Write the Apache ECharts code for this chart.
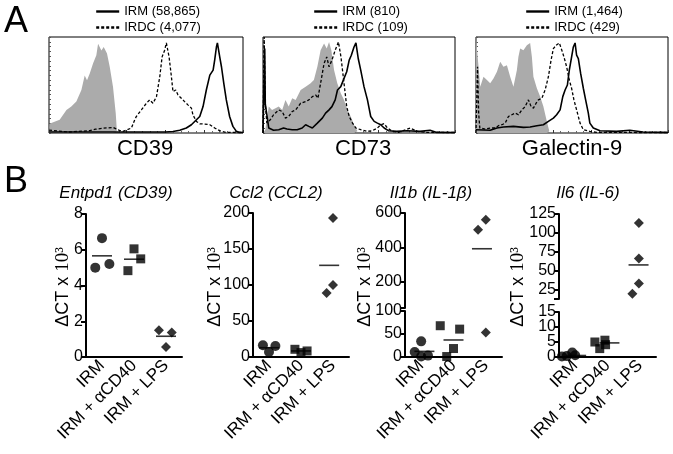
<!DOCTYPE html>
<html>
<head>
<meta charset="utf-8">
<script src="https://cdn.jsdelivr.net/npm/echarts@6/dist/echarts.min.js"></script>
<style>
  html, body { margin: 0; padding: 0; background: #fff; }
  #main { width: 673px; height: 454px; }
</style>
</head>
<body>
<div id="main"></div>
<script>
// ---- panel A: flow histograms, [channel, % of max] ----
const cd39Iso = [[0,0],[0.5,10],[1.2,10.4],[5.5,13.8],[9,24],[11.5,27.5],[14.1,32.7],[16.7,44.8],[18.4,60],[19.6,55],[21,62],[22.7,72.5],[24.4,81],[25.3,93],[27,86],[28.2,89.6],[29.2,91.5],[29.9,82.8],[31.3,69],[33,48],[34.4,20.7],[35,1.7],[36,0]];
const cd39Irdc = [[0,3],[1,1],[10,1],[21,2.4],[24,4],[28,5],[33,5.8],[36,3],[38.1,1.7],[42.5,5.2],[44.2,13.8],[45,17.2],[47.6,24],[50.2,31],[51.9,34.5],[53.6,31],[55.4,37.9],[57.1,58.6],[58.3,79.3],[59.6,86.2],[60.5,93.8],[61.9,79.3],[63.1,58.6],[63.9,43.1],[65.3,44.8],[66.5,39.6],[68.2,36.2],[69.9,32.7],[71.6,29.3],[73.4,25.9],[74.2,18.9],[76,12],[77.7,9.6],[80.3,9.3],[82.9,8.6],[85.4,5.2],[88,2.4],[91.4,0.6],[100,0.5]];
const cd39Irm = [[0,1],[60,1],[63.9,1.5],[67.4,2.8],[70.8,5.2],[73.4,8.6],[76,13.8],[77.7,17.2],[79.4,27.5],[81.1,44.8],[82.9,60.3],[84.6,65.5],[85.4,75.9],[86.3,89.6],[86.8,93.8],[88,79.3],[88.9,69],[90.1,51.8],[91.4,34.5],[93.1,17.2],[94.8,6.9],[96.6,1.7],[98.3,0.6],[100,0.5]];

const cd73Iso = [[0,0],[1.2,3.4],[3,27.5],[4.7,24],[6.5,25.9],[8.2,27.5],[10,24],[11.7,34.5],[13.4,27.5],[15.2,36.2],[17,34.5],[19.6,44.8],[22.2,48.3],[24.8,51.8],[26.5,55.2],[28.3,69],[30,86.2],[31.8,93.1],[33.2,87.9],[34.4,94.8],[35.6,86.2],[37,65.5],[38.7,51.8],[40.5,41.4],[42.2,34.5],[44,24],[45.7,17.2],[47.4,8.6],[49.2,1.7],[50,0]];
const cd73Irdc = [[0,0],[0.6,100],[1.2,30],[2,10.4],[3.8,13.8],[5.5,19],[8.2,24],[10,22.4],[11.7,15.5],[13.4,17.2],[15.2,22.4],[17,24],[19.6,31],[22.2,32.7],[23.9,34.5],[25.7,37.9],[27.4,39.6],[28.6,36.2],[30,51.8],[31.8,72.4],[33.2,79.3],[34.4,69],[35.9,75.9],[37.6,86.2],[39.3,94.8],[40.6,79.3],[42.2,51.8],[43.6,27.5],[44.9,17.2],[46.6,10.4],[48.4,5.2],[50.9,3.4],[54.4,1.7],[57,2.4],[59.6,5.2],[61.3,8.6],[63.1,9.7],[64.8,5.2],[67.4,1.7],[70.5,0.6],[76.6,5.2],[80.4,1.7],[85.6,0.6],[100,0.5]];
const cd73Irm = [[0,0],[0.9,88],[1.2,30],[3,5.2],[5.5,2.8],[8.2,3.4],[10.7,5.2],[12.5,4.1],[15.2,3.4],[17.8,3.4],[20.4,5.2],[22.2,8.6],[23.9,6.9],[25.7,5.2],[28.3,10.3],[30.9,15.5],[32.6,20.7],[34.4,24.1],[35.9,27.5],[37.6,34.5],[38.8,44.8],[40.5,48.3],[42.2,56.9],[43.6,63.8],[44.9,75.9],[46,81],[47.4,89.6],[48.4,93.8],[49.6,77.6],[50.9,65.5],[52.6,48.3],[54.4,34.5],[56.1,17.2],[57.9,12.1],[59.6,10.3],[61.3,8.6],[63.1,5.2],[65.3,2.4],[69.7,1.7],[74.9,2.4],[81.8,1.7],[87,2.8],[90.5,0.6],[100,0.5]];

const gal9Iso = [[0,100],[0.8,100],[2.2,48.3],[3.9,58.6],[5.7,55.2],[7.4,51.8],[9.1,56.9],[10.9,63.8],[12.6,74.1],[14.3,69],[16.1,70.7],[17.8,58.6],[19.5,48.3],[21.3,65.5],[22.1,79.3],[23,87.9],[24.7,86.2],[26.5,91.4],[28.2,93.8],[29.1,79.3],[29.9,58.6],[31.7,46.6],[33.4,37.9],[35.1,27.5],[36.9,12.1],[38.2,1.7],[39,0]];
const gal9Irdc = [[0,0],[0.8,69],[1.4,20],[2,5.2],[4.8,4.1],[7.4,5.2],[10,5.2],[11.7,7.6],[13.5,8.6],[15.2,10.3],[16.9,17.2],[18.7,19],[20.4,20.7],[22.1,19],[23.9,24.1],[25.6,27.5],[27.3,34.5],[28.7,27.5],[29.9,25.9],[31.3,31],[32.5,34.5],[34.3,36.2],[36,44.8],[37.7,58.6],[39.1,75.9],[40.3,87.9],[41.7,91.4],[43.4,93.8],[44.7,86.2],[45.8,79.3],[47.2,69],[48.6,55.2],[49.8,46.6],[51,34.5],[52.4,24.1],[54.2,10.3],[55.9,3.4],[59.3,1.7],[62.8,0.6],[100,0.5]];
const gal9Irm = [[0,3.4],[7.4,2.8],[10.9,5.2],[14.3,6.2],[19.5,6.9],[24.7,5.9],[28.2,6.2],[31.7,7.6],[35.1,8.6],[37.7,12.1],[40.3,15.5],[42,19],[43.8,24.1],[45.2,37.9],[46.4,44.8],[47.6,50],[48.6,65.5],[49.8,79.3],[50.7,89.6],[51.6,93.8],[52.4,81],[53.3,77.6],[54.5,62.1],[55.9,46.6],[57.1,34.5],[58.5,20.7],[59.3,10.3],[61.1,5.2],[64.6,2.4],[73.2,1.7],[80.1,2.8],[87,1],[97.4,0.6],[100,0.5]];

// ---- panel B: qPCR dots (ΔCT x 10^3) ----
const groups = ['IRM', 'IRM + αCD40', 'IRM + LPS'];

const entpd1Vals = [[6.65, 5.0, 5.2], [6.05, 4.83, 5.49], [1.5, 1.37, 0.56]];
const entpd1Jit = [[0, -0.21, 0.23], [0, -0.19, 0.21], [-0.22, 0.18, 0]];
const entpd1Means = [5.66, 5.47, 1.16];

const ccl2Vals = [[16.3, 15.3, 7], [10.7, 8.4, 6.1], [193, 89, 100]];
const ccl2Jit = [[-0.19, 0.2, 0], [-0.19, 0.19, 0], [0, -0.2, 0]];
const ccl2Means = [12.9, 8.4, 127.3];

const il1bVals = [[11, 34, 1, 3], [68, 60.6, 18.4, 1], [503, 561, 53]];
const il1bJit = [[-0.2, 0, 0, 0.21], [-0.41, 0.19, 0, -0.21], [-0.24, 0, 0]];
const il1bMeans = [12.25, 37, 393];

const il6Vals = [[0.2, 0.3, 1.5, 0.6], [5, 5.6, 2.8, 4.1], [113, 66, 33, 19.3]];
const il6Jit = [[-0.41, -0.26, -0.09, 0], [-0.39, -0.08, -0.24, -0.06], [-0.03, -0.03, -0.03, -0.23]];
const il6Means = [0.5, 4.7, 57.6];
const il6MeanOff = [0.03, 0.06, -0.04];

const sans = '"Liberation Sans", Arial, sans-serif';
const serif = '"Liberation Serif", "Times New Roman", serif';

const grid = [], xAxis = [], yAxis = [], series = [], legend = [], graphic = [];

function histPanel(box, iso, irdc, irm, irdcName, irmName, legendLeft, label, labelX) {
  const gi = grid.length;
  grid.push({ left: box[0], top: box[1], width: box[2], height: box[3], show: true,
    borderColor: '#000', borderWidth: 1, outerBoundsMode: 'none' });
  const xi = xAxis.length, yi = yAxis.length;
  xAxis.push({ type: 'value', gridIndex: gi, min: 0, max: 100, interval: 20,
    axisLine: { show: false }, axisLabel: { show: false }, splitLine: { show: false },
    axisTick: { inside: true, length: 3, lineStyle: { color: '#333' } },
    minorTick: { show: true, splitNumber: 5, length: 2, lineStyle: { color: '#666' } } });
  yAxis.push({ type: 'value', gridIndex: gi, min: 0, max: 100, interval: 5,
    axisLine: { show: false }, axisLabel: { show: false }, splitLine: { show: false },
    axisTick: { inside: true, length: 2, lineStyle: { color: '#555' } } });
  series.push({ type: 'line', data: iso, xAxisIndex: xi, yAxisIndex: yi, symbol: 'none',
    silent: true, lineStyle: { width: 0 }, areaStyle: { color: '#ababab', opacity: 1 }, z: 1 });
  series.push({ type: 'line', name: irdcName, data: irdc, xAxisIndex: xi, yAxisIndex: yi, symbol: 'none',
    itemStyle: { color: '#000' }, lineStyle: { color: '#000', width: 1.3, type: [3, 2] }, z: 2 });
  series.push({ type: 'line', name: irmName, data: irm, xAxisIndex: xi, yAxisIndex: yi, symbol: 'none',
    itemStyle: { color: '#000' }, lineStyle: { color: '#000', width: 1.6 }, z: 3 });
  legend.push({ left: legendLeft, top: 5, orient: 'vertical', data: [irmName, irdcName],
    itemWidth: 23, itemHeight: 12, itemGap: 3, selectedMode: false, padding: 0,
    lineStyle: { width: 2.4 }, itemStyle: { opacity: 0 },
    textStyle: { fontSize: 13, fontFamily: sans, color: '#000' } });
  graphic.push({ type: 'text', x: labelX, y: 149,
    style: { text: label, fontSize: 22, fontFamily: sans, fill: '#000', align: 'center', verticalAlign: 'middle' } });
}

histPanel([49, 37, 194, 96], cd39Iso, cd39Irdc, cd39Irm, 'IRDC (4,077)', 'IRM (58,865)', 95, 'CD39', 145);
histPanel([263, 37, 192, 96], cd73Iso, cd73Irdc, cd73Irm, 'IRDC (109)', 'IRM (810)', 313, 'CD73', 363);
histPanel([476, 37, 192, 96], gal9Iso, gal9Irdc, gal9Irm, 'IRDC (429)', 'IRM (1,464)', 525, 'Galectin-9', 572);

const axisColor = { color: '#000', width: 2 };
const symbols = ['circle', 'rect', 'diamond'];
const symSize = [10, 9, 10];
const yLabelStyle = { fontSize: 16, fontFamily: sans, color: '#000', margin: 3,
  showMinLabel: true, showMaxLabel: true, hideOverlap: false };

// segs ordered bottom first; the first one carries the category axis
function dotPanel(left, width, segs, vals, jit, means, meanOff, title, titleX, nameX) {
  const segIdx = [];
  segs.forEach((s, k) => {
    const gi = grid.length;
    grid.push({ left: left, top: s.top, width: width, height: s.height, outerBoundsMode: 'none' });
    if (k === 0) {
      xAxis.push({ type: 'category', gridIndex: gi, position: 'bottom', data: groups, boundaryGap: true,
        axisLine: { lineStyle: axisColor },
        axisTick: { alignWithLabel: true, length: 5, lineStyle: axisColor },
        axisLabel: { rotate: 45, interval: 0, fontSize: 17, fontFamily: sans, color: '#000', margin: 6 } });
    }
    const xi = xAxis.length;
    xAxis.push({ type: 'value', gridIndex: gi, position: 'top', min: 0, max: 3, show: false });
    const yi = yAxis.length;
    const y = { type: 'value', gridIndex: gi, position: 'left', offset: 0, min: s.min, max: s.max,
      axisLine: { show: true, onZero: false, lineStyle: axisColor },
      axisTick: { show: true, length: 5, lineStyle: axisColor },
      axisLabel: Object.assign({}, yLabelStyle),
      splitLine: { show: false } };
    if (s.interval) y.interval = s.interval;
    if (s.ticks) y.axisTick.customValues = s.ticks;
    if (s.labels) y.axisLabel.customValues = s.labels;
    yAxis.push(y);
    if (s.labels2) {
      // second label-only axis so that tightly packed labels are not dropped
      yAxis.push({ type: 'value', gridIndex: gi, position: 'left', offset: 0, min: s.min, max: s.max,
        axisLine: { show: false }, axisTick: { show: false }, splitLine: { show: false },
        axisLabel: Object.assign({ customValues: s.labels2 }, yLabelStyle) });
    }
    segIdx.push([xi, yi]);
  });
  const pick = v => segs.findIndex(s => v >= s.min && v <= s.max);
  groups.forEach((g, gIdx) => {
    const buckets = segs.map(() => []);
    vals[gIdx].forEach((v, j) => buckets[pick(v)].push([gIdx + 0.5 + jit[gIdx][j], v]));
    buckets.forEach((d, k) => {
      if (!d.length) return;
      series.push({ type: 'scatter', data: d, xAxisIndex: segIdx[k][0], yAxisIndex: segIdx[k][1],
        symbol: symbols[gIdx], symbolSize: symSize[gIdx], itemStyle: { color: '#000' }, clip: false, silent: true });
    });
    const m = means[gIdx], k = pick(m);
    series.push({ type: 'scatter', data: [[gIdx + 0.5 + (meanOff ? meanOff[gIdx] : 0), m]],
      xAxisIndex: segIdx[k][0], yAxisIndex: segIdx[k][1], symbol: 'rect', symbolSize: [20, 1.6],
      itemStyle: { color: '#000' }, clip: false, silent: true });
  });
  graphic.push({ type: 'text', x: titleX, y: 193,
    style: { text: title, fontSize: 17, fontStyle: 'italic', fontFamily: sans, fill: '#000', align: 'center', verticalAlign: 'middle' } });
  graphic.push({ type: 'text', x: nameX, y: 287, rotation: Math.PI / 2,
    style: { text: '{a|ΔCT x }{b|10³}', align: 'center', verticalAlign: 'middle', fill: '#000',
      rich: { a: { fontFamily: sans, fontSize: 18, fill: '#000' }, b: { fontFamily: serif, fontSize: 19, fill: '#000' } } } });
}

dotPanel(86, 96, [{ top: 214, height: 143, min: 0, max: 8, interval: 2 }],
  entpd1Vals, entpd1Jit, entpd1Means, null, 'Entpd1 (CD39)', 116, 63);
dotPanel(253, 96, [{ top: 213, height: 144, min: 0, max: 200, interval: 50 }],
  ccl2Vals, ccl2Jit, ccl2Means, [0, 0, -0.12], 'Ccl2 (CCL2)', 276, 215);
dotPanel(405, 97, [
    { top: 311, height: 46, min: 0, max: 100, interval: 50 },
    { top: 213, height: 95, min: 50, max: 600, ticks: [50, 200, 400, 600], labels: [200, 400, 600] }
  ], il1bVals, il1bJit, il1bMeans, [0.1, 0, -0.12], 'Il1b (IL-1β)', 431, 365);
dotPanel(559, 97, [
    { top: 312, height: 45, min: 0, max: 15, ticks: [0, 5, 10, 15], labels: [0, 10], labels2: [5, 15] },
    { top: 214, height: 85, min: 12.5, max: 125, ticks: [12.5, 25, 50, 75, 100, 125], labels: [25, 50, 75, 100, 125] }
  ], il6Vals, il6Jit, il6Means, il6MeanOff, 'Il6 (IL-6)', 588, 518);

graphic.push({ type: 'text', x: 4, y: 4, style: { text: 'A', fontSize: 36, fontFamily: sans, fill: '#000' } });
graphic.push({ type: 'text', x: 4, y: 164, style: { text: 'B', fontSize: 36, fontFamily: sans, fill: '#000' } });

const chart = echarts.init(document.getElementById('main'));
chart.setOption({
  animation: false,
  backgroundColor: '#fff',
  grid: grid,
  xAxis: xAxis,
  yAxis: yAxis,
  legend: legend,
  series: series,
  graphic: graphic
});
</script>
</body>
</html>
